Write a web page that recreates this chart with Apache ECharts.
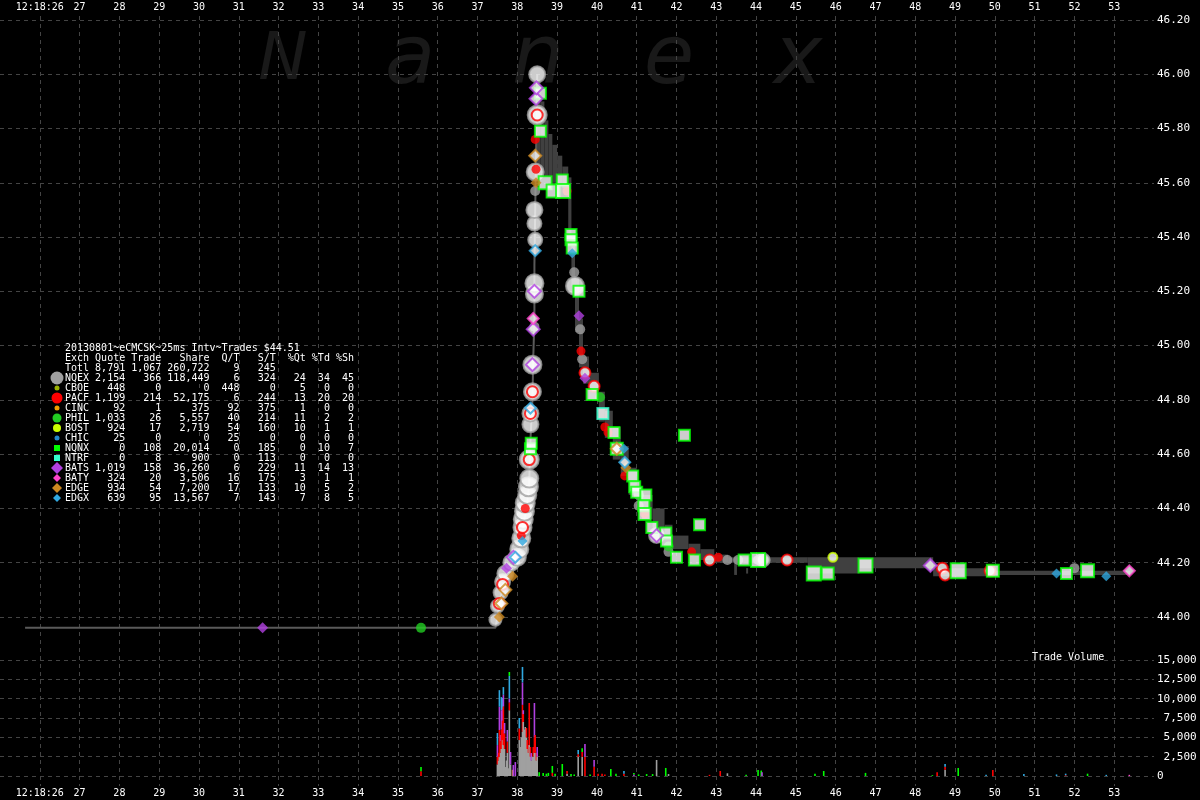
<!DOCTYPE html>
<html><head><meta charset="utf-8">
<script src="https://cdn.jsdelivr.net/npm/echarts@6/dist/echarts.min.js"></script>
<style>html,body{margin:0;padding:0;background:#000;}#c{width:1200px;height:800px;}</style>
</head><body><div id="c"></div>
<script>
// ---------- tick labels ----------
const timeLabels = ['12:18:26','27','28','29','30','31','32','33','34','35','36','37','38','39','40','41','42','43','44','45','46','47','48','49','50','51','52','53'];
const titleText = '20130801~eCMCSK~25ms Intv~Trades $44.51';
const volumeTitle = 'Trade Volume';
const watermark = ['N','a','n','e','x'];

// ---------- summary table ----------
const exchCodes   = ['NQEX','CBOE','PACF','CINC','PHIL','BOST','CHIC','NQNX','NTRF','BATS','BATY','EDGE','EDGX'];
const exchQuotes  = [2154,448,1199,92,1033,924,25,0,0,1019,324,934,639];
const exchTrades  = [366,0,214,1,26,17,0,108,8,158,20,54,95];
const exchShares  = [118449,0,52175,375,5557,2719,0,20014,900,36260,3506,7200,13567];
const exchQT      = [6,448,6,92,40,54,25,0,0,6,16,17,7];
const exchST      = [324,0,244,375,214,160,0,185,113,229,175,133,143];
const exchPctQt   = [24,5,13,1,11,10,0,0,0,11,3,10,7];
const exchPctTd   = [34,0,20,0,2,1,0,10,0,14,1,5,8];
const exchPctSh   = [45,0,20,0,2,1,0,7,0,13,1,2,5];
const totals      = [8791,1067,260722,9,245];

// ---------- price data: [second, price] ----------
const pricePath = [[25.63,43.96],[37.45,43.96],[37.50,44.00],[37.58,44.07],[37.65,44.13],[37.75,44.17],[37.90,44.20],[38.05,44.25],[38.15,44.33],[38.25,44.42],[38.30,44.50],[38.33,44.65],[38.38,44.80],[38.40,44.95],[38.43,45.10],[38.43,45.30],[38.45,45.50],[38.47,45.70],[38.50,46.00]];
// NBBO band steps: [t0, t1, low, high]
const bandSteps = [[38.48,38.58,45.62,45.98],[38.58,38.68,45.62,45.90],[38.68,38.78,45.62,45.83],[38.78,38.88,45.62,45.78],[38.88,39.00,45.60,45.74],[39.00,39.13,45.60,45.70],[39.13,39.28,45.58,45.66],[39.28,39.36,45.40,45.62],[39.36,39.45,45.22,45.40],[39.45,39.55,45.05,45.25],[39.55,39.65,44.92,45.10],[39.65,39.80,44.86,44.96],[39.80,40.05,44.80,44.90],[40.05,40.20,44.72,44.83],[40.20,40.40,44.66,44.76],[40.40,40.60,44.58,44.70],[40.60,40.80,44.52,44.63],[40.80,41.00,44.45,44.55],[41.00,41.13,44.42,44.48],[41.13,41.40,44.36,44.45],[41.40,41.70,44.33,44.40],[41.70,41.90,44.29,44.34],[41.90,42.30,44.25,44.30],[42.30,42.60,44.23,44.27],[42.60,42.95,44.21,44.25],[42.95,43.30,44.20,44.23],[43.30,45.30,44.20,44.22],[43.45,43.52,44.155,44.20],[43.75,43.80,44.16,44.18],[45.30,46.60,44.16,44.22],[46.60,48.45,44.18,44.22],[48.45,50.00,44.15,44.18],[50.00,53.40,44.155,44.17]];

// trades [t, price, shares]
const nqexTrades = [[37.45,43.99,150],[37.50,44.04,250],[37.58,44.09,350],[37.63,44.13,450],[37.70,44.16,500],[37.85,44.20,500],[38.00,44.22,600],[38.05,44.25,700],[38.10,44.29,800],[38.13,44.33,800],[38.15,44.36,900],[38.18,44.39,900],[38.20,44.42,900],[38.25,44.45,800],[38.28,44.48,900],[38.30,44.51,800],[38.30,44.58,900],[38.33,44.71,500],[38.33,44.75,500],[38.38,44.83,600],[38.38,44.93,700],[38.43,45.19,600],[38.43,45.23,700],[38.43,45.45,300],[38.43,45.50,500],[38.45,45.39,300],[38.45,45.64,600],[38.50,45.85,900],[38.50,46.00,500],[39.45,45.22,700],[41.50,44.30,400],[44.18,44.21,250]];
const nqexQuotes = [[37.75,44.18],[37.93,44.20],[38.43,45.07],[38.45,45.57],[39.43,45.27],[39.58,45.06],[39.63,44.95],[41.05,44.45],[41.05,44.41],[41.80,44.24],[43.28,44.21],[43.55,44.21],[44.05,44.21],[52.00,44.18]];
const pacfTrades = [[37.55,44.05],[37.63,44.12],[38.13,44.33],[38.30,44.58],[38.33,44.75],[38.38,44.83],[38.50,45.85],[39.70,44.90],[39.93,44.85],[42.83,44.21],[44.78,44.21],[48.68,44.18],[48.75,44.155],[49.88,44.17]];
const pacfQuotes = [[38.10,44.30],[38.20,44.40],[38.45,45.76],[38.47,45.65],[39.25,45.57],[39.60,44.98],[40.20,44.70],[40.28,44.68],[40.70,44.52],[41.20,44.38],[42.38,44.24],[43.05,44.22]];
const batsTrades = [[37.90,44.22],[38.40,45.06],[38.38,44.93],[38.43,45.20],[38.47,45.91],[38.48,45.95],[41.50,44.30],[48.38,44.19]];
const batsQuotes = [[31.60,43.96],[37.73,44.18],[39.55,45.11],[39.70,44.88]];
const edgxTrades = [[37.95,44.22],[38.33,44.77],[38.45,45.35],[40.70,44.57]];
const edgxQuotes = [[38.13,44.28],[39.38,45.34],[40.68,44.62],[51.55,44.16],[52.80,44.15]];
const edgeTrades = [[37.60,44.05],[37.70,44.10],[38.45,45.70],[40.50,44.62]];
const edgeQuotes = [[37.55,44.00],[37.88,44.15],[38.47,45.60],[40.73,44.55]];
const nqnxTrades = [[38.33,44.62,100],[38.35,44.64,100],[38.58,45.93,100],[38.58,45.79,100],[38.70,45.60,300],[38.90,45.57,300],[39.13,45.61,100],[39.15,45.57,400],[39.35,45.41,100],[39.35,45.39,100],[39.38,45.36,100],[39.55,45.20,100],[39.88,44.82,100],[40.43,44.68,100],[40.50,44.62,200],[40.90,44.52,100],[40.95,44.48,100],[41.00,44.46,100],[41.23,44.45,100],[41.18,44.41,100],[41.20,44.38,200],[41.38,44.33,100],[41.73,44.31,100],[41.75,44.28,100],[42.00,44.22,100],[42.20,44.67,100],[42.58,44.34,100],[42.45,44.21,100],[43.70,44.21,100],[44.05,44.21,400],[45.45,44.16,400],[45.80,44.16,200],[46.75,44.19,400],[49.08,44.17,500],[49.95,44.17,200],[51.80,44.16,100],[52.33,44.17,300]];
const philQuotes = [[35.58,43.96],[40.08,44.81],[41.80,44.26]];
const ntrfTrades = [[40.15,44.75]];
const bostTrades = [[45.93,44.22]];
const batyTrades = [[38.40,45.10],[53.38,44.17]];

// volume: [t, NQEX, PACF, BATS, EDGX, NQNX, EDGE, BATY]
const volBars = [
 [35.58,0,600,0,0,560,0,0],
 [37.50,1500,1000,1500,1560,0,0,0],[37.53,2000,1000,0,0,0,0,0],[37.55,2450,3500,3000,2150,0,0,0],[37.58,3000,1500,800,0,0,0,0],[37.60,3500,2500,2500,1700,0,0,0],[37.63,4650,2500,1500,1450,0,0,0],[37.65,4000,5000,1500,1000,0,0,0],[37.68,3500,2000,1350,0,0,0,0],[37.70,1160,0,0,0,0,0,0],[37.73,2000,0,0,0,0,0,0],[37.75,3000,1450,1500,0,0,0,0],[37.78,1000,0,0,0,0,0,0],[37.80,8500,1000,500,2950,500,0,0],[37.83,1500,0,1600,0,0,0,0],[37.88,0,0,0,0,0,800,0],[37.90,0,0,1420,0,0,0,0],[37.95,0,0,1800,0,0,0,0],
 [38.05,4650,1500,0,1350,0,0,0],[38.08,3750,0,0,0,0,0,0],[38.10,5000,0,0,0,0,0,0],[38.13,5700,3500,2900,2000,0,0,0],[38.15,7000,1000,500,0,0,0,0],[38.18,6000,0,0,0,0,0,0],[38.20,6340,0,0,0,0,0,0],[38.23,5000,1200,0,0,0,0,0],[38.25,3500,1150,0,0,0,0,0],[38.28,3000,1000,0,0,0,0,0],[38.30,4000,5440,0,0,0,0,0],[38.33,2500,1250,0,0,0,0,0],[38.35,2000,0,970,0,0,0,0],[38.38,2500,0,0,0,0,0,0],[38.40,2500,1250,0,0,0,0,0],[38.43,3000,2000,4440,0,0,0,0],[38.45,3000,2300,0,0,0,0,0],[38.48,2000,1000,0,0,0,0,0],[38.50,2500,0,1250,0,0,0,0],
 [38.55,0,0,0,0,500,0,0],[38.65,0,0,0,0,400,0,0],[38.73,0,0,0,0,300,0,0],[38.78,0,0,0,0,400,0,0],[38.88,0,400,0,0,900,0,0],[38.95,0,0,0,0,300,0,0],[39.13,0,0,0,0,1550,0,0],[39.25,300,350,0,0,0,0,0],[39.35,0,0,0,0,250,0,0],[39.43,0,0,0,0,200,0,0],[39.53,2500,300,0,560,0,0,0],[39.63,2500,600,0,0,500,0,0],[39.70,0,2500,1640,0,0,0,0],[39.83,0,0,0,0,200,0,0],[39.93,0,1200,870,0,0,0,0],[40.03,0,300,0,0,0,0,0],[40.13,0,300,0,0,0,0,0],[40.20,0,200,0,0,0,0,0],[40.35,0,0,0,0,900,0,0],[40.48,0,0,0,0,300,0,0],[40.68,0,300,0,350,0,0,0],[40.93,0,0,200,0,200,0,0],[41.05,0,0,0,0,200,0,0],[41.25,0,0,0,0,250,0,0],[41.40,0,0,0,0,250,0,0],[41.50,2070,0,0,0,0,0,0],[41.73,0,0,0,0,1040,0,0],[41.80,250,0,0,0,0,0,0],[42.83,0,150,0,0,0,0,0],[43.10,0,650,0,0,0,0,0],[43.28,350,0,0,0,0,0,0],[43.75,0,0,0,0,150,0,0],[44.05,0,0,0,0,780,0,0],[44.13,0,0,0,0,700,0,0],[44.15,0,0,500,0,0,0,0],[45.48,0,0,0,0,300,0,0],[45.70,0,0,0,0,650,0,0],[46.75,0,0,0,0,400,0,0],[48.43,0,0,0,0,100,0,0],[48.55,0,500,0,0,0,0,0],[48.75,800,400,0,350,0,0,0],[49.08,0,0,0,0,1040,0,0],[49.78,0,0,0,150,0,0,0],[49.95,0,780,0,0,0,0,0],[50.73,0,0,0,250,0,0,0],[51.55,0,0,0,200,0,0,0],[51.78,0,100,0,200,0,0,0],[52.33,0,0,0,0,300,0,0],[52.80,0,0,0,150,0,0,0],[53.38,0,0,0,0,0,0,150]
];

// ---------- styling ----------
const exStyle = {
  NQEX:{color:'#a0a0a0',symbol:'circle',size:13},
  CBOE:{color:'#99b000',symbol:'circle',size:5},
  PACF:{color:'#ff0000',symbol:'circle',size:11},
  CINC:{color:'#f0a000',symbol:'circle',size:5},
  PHIL:{color:'#22cc22',symbol:'circle',size:9},
  BOST:{color:'#ccff00',symbol:'circle',size:8},
  CHIC:{color:'#2288cc',symbol:'circle',size:5},
  NQNX:{color:'#00ff00',symbol:'rect',size:6},
  NTRF:{color:'#33ffcc',symbol:'rect',size:6},
  BATS:{color:'#b040e0',symbol:'diamond',size:12},
  BATY:{color:'#ff44cc',symbol:'diamond',size:8},
  EDGE:{color:'#cc8820',symbol:'diamond',size:10},
  EDGX:{color:'#30a8e0',symbol:'diamond',size:8}
};
const volColors = ['#a0a0a0','#ff0000','#b040e0','#30a8e0','#00ff00','#cc8820','#ff44cc'];
const MONO = '"DejaVu Sans Mono", monospace';
const gridCol = '#444';

const chart = echarts.init(document.getElementById('c'), null, {renderer:'canvas'});

function fmt(n){ return n.toLocaleString('en-US'); }
function sc(data, ex, hollow, size){
  const s = exStyle[ex];
  return {
    type:'scatter', xAxisIndex:2, yAxisIndex:1, data, clip:false, animation:false,
    symbol:s.symbol, symbolSize:size,
    itemStyle: hollow ? {color:'#ffffff', borderColor:s.color, borderWidth:2} : {color:s.color, borderColor:s.color, borderWidth:0},
    z:5
  };
}

const graphics = [];
const wmX = [283,410,538,669,798];
watermark.forEach((ch,i)=>{
  graphics.push({type:'text', x:wmX[i], y:62, z:-5, silent:true,
    style:{text:ch, fontStyle:'italic', fontSize: i===0?66:82, fontFamily:'"DejaVu Sans"', fill:'#191919', align:'center', verticalAlign:'middle'}});
});
const rowY0 = 348, rowH = 10, textX = 65;
const rows = [];
rows.push(titleText);
rows.push('Exch Quote Trade   Share  Q/T   S/T  %Qt %Td %Sh');
rows.push('Totl ' + fmt(totals[0]).padStart(5) + ' ' + fmt(totals[1]).padStart(5) + ' ' + fmt(totals[2]).padStart(7) + ' ' + String(totals[3]).padStart(4) + ' ' + String(totals[4]).padStart(5));
exchCodes.forEach((c,i)=>{
  rows.push(c.padEnd(4) + ' ' + fmt(exchQuotes[i]).padStart(5) + ' ' + fmt(exchTrades[i]).padStart(5) + ' ' + fmt(exchShares[i]).padStart(7) + ' ' + String(exchQT[i]).padStart(4) + ' ' + String(exchST[i]).padStart(5) + ' ' + String(exchPctQt[i]).padStart(4) + ' ' + String(exchPctTd[i]).padStart(3) + ' ' + String(exchPctSh[i]).padStart(3));
});
rows.forEach((r,i)=>{
  graphics.push({type:'text', x:textX, y:rowY0 + i*rowH, z:10,
    style:{text:r, font:'10px ' + MONO, fill:'#ffffff', verticalAlign:'middle', align:'left'}});
});
exchCodes.forEach((c,i)=>{
  const s = exStyle[c]; const cx = 57, cy = rowY0 + (i+3)*rowH; const r = s.size/2;
  let el;
  if (s.symbol==='circle') el = {type:'circle', shape:{cx, cy, r}};
  else if (s.symbol==='rect') el = {type:'rect', shape:{x:cx-r, y:cy-r, width:s.size, height:s.size}};
  else el = {type:'polygon', shape:{points:[[cx,cy-r],[cx+r,cy],[cx,cy+r],[cx-r,cy]]}};
  el.style = {fill:s.color}; el.z = 10;
  graphics.push(el);
});
graphics.push({type:'text', x:1032, y:657, z:10, style:{text:volumeTitle, font:'10px ' + MONO, fill:'#ffffff', verticalAlign:'middle'}});

const xLabelFmt = v => { const k = Math.round(v) - 26; return (k>=0 && k<timeLabels.length && Math.abs(v-Math.round(v))<1e-6) ? timeLabels[k] : ''; };

const option = {
  backgroundColor:'#000000',
  animation:false,
  graphic:{elements:graphics},
  grid:[
    {left:-5, right:46, top:16, height:770},
    {left:-5, right:46, top:20, height:597},
    {left:-5, right:46, top:660, height:116}
  ],
  xAxis:[
    {gridIndex:0, type:'value', min:25, max:54, interval:1, position:'top',
     axisLine:{show:false}, axisTick:{show:false},
     splitLine:{show:true, showMaxLine:false, showMinLine:false, lineStyle:{color:gridCol, type:[4,4], width:1}},
     axisLabel:{color:'#fff', fontFamily:MONO, fontSize:10, margin:4, formatter:xLabelFmt, showMinLabel:false, showMaxLabel:false}},
    {gridIndex:0, type:'value', min:25, max:54, interval:1, position:'bottom',
     axisLine:{show:false}, axisTick:{show:false}, splitLine:{show:false},
     axisLabel:{color:'#fff', fontFamily:MONO, fontSize:10, margin:2, formatter:xLabelFmt, showMinLabel:false, showMaxLabel:false}},
    {gridIndex:1, type:'value', min:25, max:54, show:false},
    {gridIndex:2, type:'value', min:25, max:54, show:false}
  ],
  yAxis:[
    {gridIndex:0, type:'value', min:0, max:1, show:false},
    {gridIndex:1, type:'value', min:44, max:46.2, interval:0.2, position:'right',
     axisLine:{show:false}, axisTick:{show:false},
     splitLine:{show:true, lineStyle:{color:gridCol, type:[4,4], width:1}},
     axisLabel:{color:'#fff', fontFamily:MONO, fontSize:11, margin:3, formatter:v=>v.toFixed(2)}},
    {gridIndex:2, type:'value', min:0, max:15000, interval:2500, position:'right',
     axisLine:{show:false}, axisTick:{show:false},
     splitLine:{show:true, lineStyle:{color:gridCol, type:[4,4], width:1}},
     axisLabel:{color:'#fff', fontFamily:MONO, fontSize:11, margin:3, formatter:v=> v===0 ? '0' : fmt(v).padStart(6)}}
  ],
  series:[
    {type:'custom', xAxisIndex:2, yAxisIndex:1, data:bandSteps, encode:{x:[0,1], y:[2,3]}, z:2, clip:false,
     renderItem:(params, api)=>{
       const a = api.coord([api.value(0), api.value(3)]);
       const b = api.coord([api.value(1), api.value(2)]);
       return {type:'rect', shape:{x:a[0], y:a[1], width:Math.max(1,b[0]-a[0]), height:Math.max(1,b[1]-a[1])}, style:{fill:'#404040'}};
     }},
    {type:'line', xAxisIndex:2, yAxisIndex:1, data:pricePath, showSymbol:false, symbol:'none', clip:false, z:3,
     lineStyle:{color:'#5a5a5a', width:2}},
    sc(nqexQuotes,'NQEX',false,10),
    sc(nqexTrades,'NQEX',true,v=>Math.round(7 + Math.sqrt(v[2])*0.4)),
    sc(pacfQuotes,'PACF',false,9),
    sc(pacfTrades,'PACF',true,11),
    sc(philQuotes,'PHIL',false,10),
    sc(bostTrades,'BOST',true,9),
    sc(nqnxTrades,'NQNX',true,v=>Math.round(8 + Math.sqrt(v[2])*0.3)),
    sc(ntrfTrades,'NTRF',true,11),
    sc(batsQuotes,'BATS',false,11),
    sc(batsTrades,'BATS',true,13),
    sc(batyTrades,'BATY',true,11),
    sc(edgeQuotes,'EDGE',false,11),
    sc(edgeTrades,'EDGE',true,12),
    sc(edgxQuotes,'EDGX',false,10),
    sc(edgxTrades,'EDGX',true,11),
    {type:'custom', xAxisIndex:3, yAxisIndex:2, data:volBars, encode:{x:0, y:1}, z:4,
     renderItem:(params, api)=>{
       const t = api.value(0); let acc = 0; const children = [];
       for (let k=1;k<=7;k++){
         const v = api.value(k); if (!v) continue;
         const p0 = api.coord([t, acc]); const p1 = api.coord([t, acc+v]);
         children.push({type:'rect', shape:{x:p0[0]-0.8, y:p1[1], width:1.6, height:p0[1]-p1[1]}, style:{fill:volColors[k-1]}});
         acc += v;
       }
       return {type:'group', children};
     }}
  ]
};
chart.setOption(option);
</script></body></html>
